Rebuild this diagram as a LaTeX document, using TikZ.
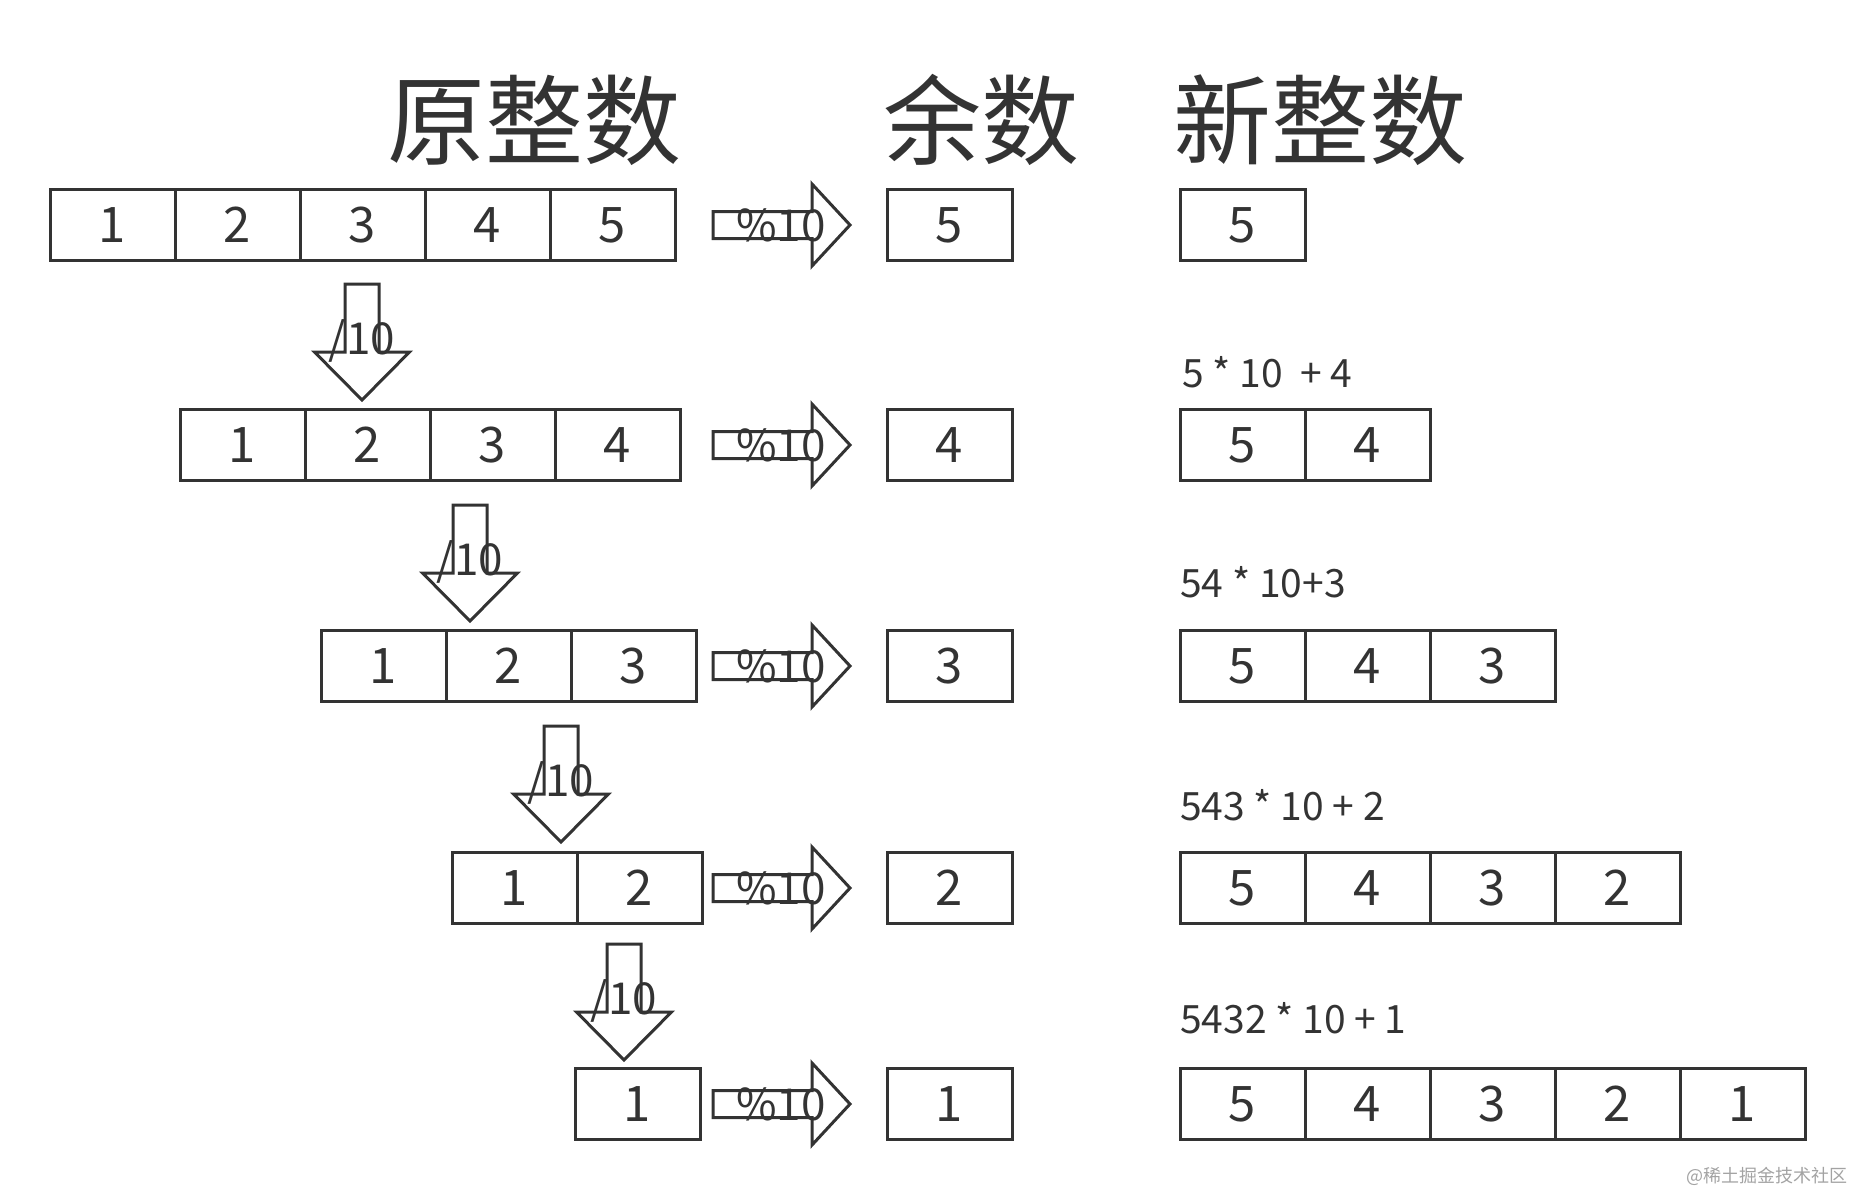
\documentclass[tikz,border=0pt]{standalone}
\usepackage{fontspec}
\setmainfont{Noto Sans CJK SC}
\usetikzlibrary{positioning}
\definecolor{ink}{HTML}{333333}
\definecolor{wmark}{HTML}{A3A3A3}

\begin{document}
\begin{tikzpicture}[x=1pt, y=-1pt,
    node distance=0pt,
    every node/.style = {text=ink},
    cell/.style = {draw=ink, line width=3pt, minimum width=125pt,
      minimum height=71pt, inner sep=0pt, outer sep=0pt,
      font=\fontsize{49}{50}\selectfont},
    title/.style = {inner sep=0pt, font=\fontsize{98}{110}\selectfont},
    formula/.style = {anchor=base west, inner sep=0pt,
      font=\fontsize{39}{40}\selectfont},
    oplabel/.style = {inner sep=0pt, font=\fontsize{44}{45}\selectfont},
    modarrow/.pic = {\draw[ink, line width=3pt] (0,-13.5) -- (99,-13.5)
      -- (99,-41) -- (137,0) -- (99,41) -- (99,13.5) -- (0,13.5) -- cycle;},
    divarrow/.pic = {\draw[ink, line width=3pt] (-17,0) -- (17,0) -- (17,68)
      -- (47.5,68) -- (0,116) -- (-47.5,68) -- (-17,68) -- cycle;}
  ]
  \useasboundingbox (0,0) rectangle (1854,1193);

  % headings
  \node[title] (torig) at (534,120) {原整数};
  \node[title] (trem) at (981,120) {余数};
  \node[title] (tnew) at (1320,120) {新整数};

  % original number, one digit less each row
  \node[cell, anchor=west] (o11) at (50,225) {1};
  \node[cell, right=of o11] (o12) {2}; \node[cell, right=of o12] (o13) {3};
  \node[cell, right=of o13] (o14) {4}; \node[cell, right=of o14] (o15) {5};
  \node[cell, anchor=west] (o21) at (180,445) {1};
  \node[cell, right=of o21] (o22) {2}; \node[cell, right=of o22] (o23) {3};
  \node[cell, right=of o23] (o24) {4};
  \node[cell, anchor=west] (o31) at (321,666) {1};
  \node[cell, right=of o31] (o32) {2}; \node[cell, right=of o32] (o33) {3};
  \node[cell, anchor=west] (o41) at (452,888) {1};
  \node[cell, right=of o41] (o42) {2};
  \node[cell, anchor=west] (o51) at (575,1104) {1};

  % remainders
  \node[cell] (rem1) at (949.5,225) {5};
  \node[cell] (rem2) at (949.5,445) {4};
  \node[cell] (rem3) at (949.5,666) {3};
  \node[cell] (rem4) at (949.5,888) {2};
  \node[cell] (rem5) at (949.5,1104) {1};

  % %10 arrows
  \pic at ([xshift=-174pt]rem1.west) {modarrow};
  \pic at ([xshift=-174pt]rem2.west) {modarrow};
  \pic at ([xshift=-174pt]rem3.west) {modarrow};
  \pic at ([xshift=-174pt]rem4.west) {modarrow};
  \pic at ([xshift=-174pt]rem5.west) {modarrow};
  \node[oplabel] (mod1) at (781,225) {\%10};
  \node[oplabel] (mod2) at (781,445) {\%10};
  \node[oplabel] (mod3) at (781,666) {\%10};
  \node[oplabel] (mod4) at (781,888) {\%10};
  \node[oplabel] (mod5) at (781,1104) {\%10};

  % /10 arrows
  \pic at (362,284) {divarrow};
  \pic at (470,505) {divarrow};
  \pic at (561,726) {divarrow};
  \pic at (624,944) {divarrow};
  \node[oplabel] (div1) at (362,341) {/10};
  \node[oplabel] (div2) at (470,562) {/10};
  \node[oplabel] (div3) at (561,783) {/10};
  \node[oplabel] (div4) at (624,1001) {/10};

  % new number
  \node[cell, anchor=west] (n11) at (1180,225) {5};
  \node[formula] (f2) at (1182,387) {5 * 10~~+ 4};
  \node[cell, anchor=west] (n21) at (1180,445) {5};
  \node[cell, right=of n21] (n22) {4};
  \node[formula] (f3) at (1180,597) {54 * 10+3};
  \node[cell, anchor=west] (n31) at (1180,666) {5};
  \node[cell, right=of n31] (n32) {4}; \node[cell, right=of n32] (n33) {3};
  \node[formula] (f4) at (1180,820) {543 * 10 + 2};
  \node[cell, anchor=west] (n41) at (1180,888) {5};
  \node[cell, right=of n41] (n42) {4}; \node[cell, right=of n42] (n43) {3};
  \node[cell, right=of n43] (n44) {2};
  \node[formula] (f5) at (1180,1033) {5432 * 10 + 1};
  \node[cell, anchor=west] (n51) at (1180,1104) {5};
  \node[cell, right=of n51] (n52) {4}; \node[cell, right=of n52] (n53) {3};
  \node[cell, right=of n53] (n54) {2}; \node[cell, right=of n54] (n55) {1};

  \node[anchor=east, inner sep=0pt, text=wmark, font=\fontsize{18}{20}\selectfont]
    (wm) at (1848,1176) {@稀土掘金技术社区};
\end{tikzpicture}
\end{document}
